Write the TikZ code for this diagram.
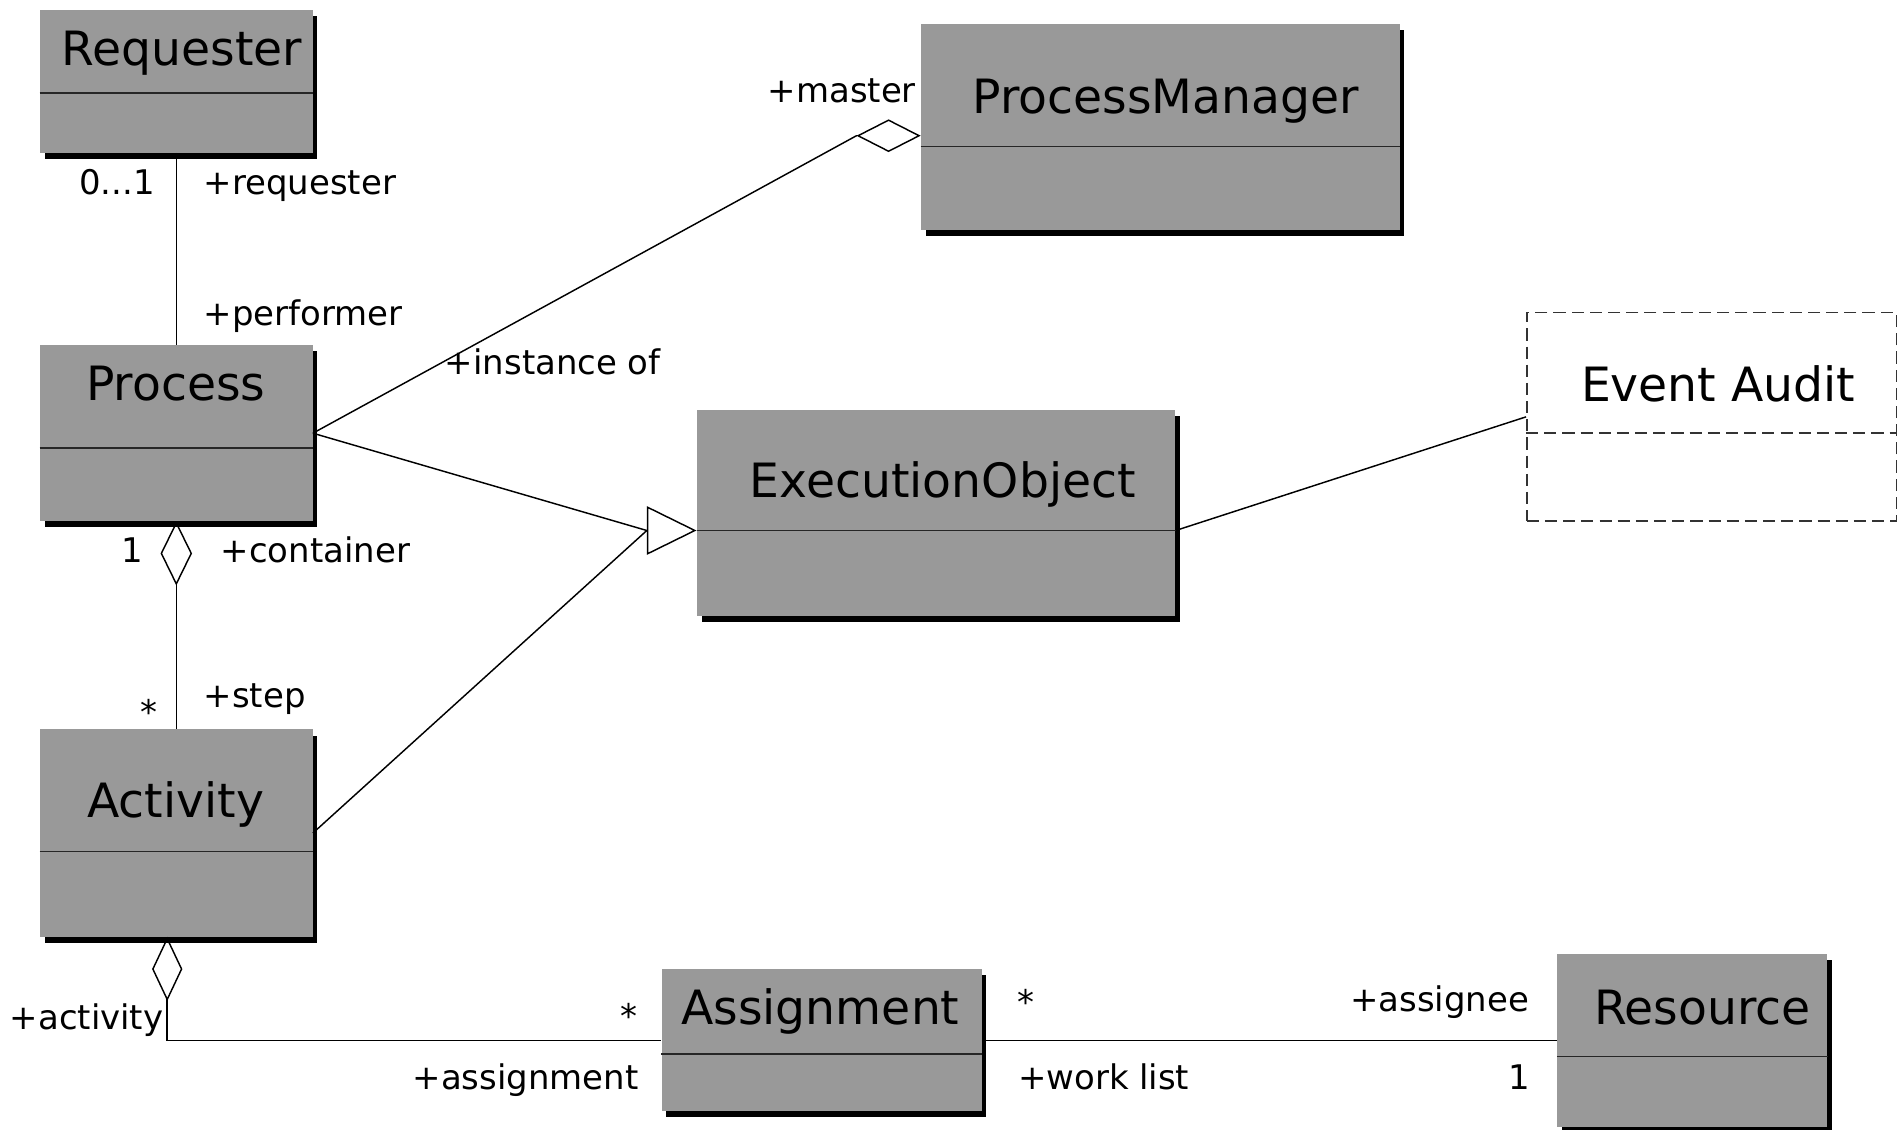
\documentclass[tikz,border=0pt]{standalone}
\usepackage{fontspec}
\setmainfont{DejaVu Sans}
\usetikzlibrary{arrows.meta,shadows}
\definecolor{clsgray}{RGB}{153,153,153}
\tikzset{
  cls/.style={fill=clsgray, inner sep=0pt,
    drop shadow={shadow xshift=4pt, shadow yshift=-5pt, fill=black, opacity=1}},
  audit/.style={draw=black!80, fill=white, line width=1.2pt, dash pattern=on 10pt off 5pt, inner sep=0pt},
  auditline/.style={draw=black!80, line width=1.2pt, dash pattern=on 10pt off 5pt},
  divider/.style={draw=black!85, line width=1.3pt},
  clsname/.style={inner sep=0pt, font=\fontsize{39}{47}\selectfont},
  role/.style={inner sep=0pt, font=\fontsize{28}{34}\selectfont},
  assoc/.style={draw=black, line width=1.2pt},
}
\begin{document}
\begin{tikzpicture}[x=1pt,y=-1pt]
        \useasboundingbox (0,0) rectangle (1568,932.5);

        % classes
        \node[cls, minimum width=225pt, minimum height=118pt] (req) at (145.5,67) {};
        \node[cls, minimum width=225pt, minimum height=145pt] (proc) at (145.5,357.5) {};
        \node[cls, minimum width=225pt, minimum height=171pt] (act) at (145.5,687.5) {};
        \node[cls, minimum width=395pt, minimum height=170pt] (pm) at (957.5,105) {};
        \node[cls, minimum width=395pt, minimum height=170pt] (eo) at (772.5,423) {};
        \node[audit, minimum width=305pt, minimum height=172pt] (ea) at (1412.5,344) {};
        \node[cls, minimum width=264pt, minimum height=117pt] (asg) at (678,858.5) {};
        \node[cls, minimum width=223pt, minimum height=143pt] (res) at (1396.5,858.5) {};

        \foreach \n/\d in {req/69,proc/85,act/101,pm/101,eo/100,asg/70,res/85}
            \draw[divider] ([yshift=-\d pt]\n.north west) -- ([yshift=-\d pt]\n.north east);
        \draw[auditline] ([yshift=-100pt]ea.north west) -- ([yshift=-100pt]ea.north east);

        \node[clsname, anchor=base] (req-name) at (150,54.4) {Requester};
        \node[clsname, anchor=base] (proc-name) at (145,330.7) {Process};
        \node[clsname, anchor=base] (act-name) at (145,674.5) {Activity};
        \node[clsname, anchor=base] (pm-name) at (962,93.7) {ProcessManager};
        \node[clsname, anchor=base] (eo-name) at (778,410.4) {ExecutionObject};
        \node[clsname, anchor=base] (ea-name) at (1418,331.6) {Event Audit};
        \node[clsname, anchor=base] (asg-name) at (677,845.5) {Assignment};
        \node[clsname, anchor=base] (res-name) at (1405,845.5) {Resource};

        % associations
        \draw[assoc] (req.south) -- (proc.north);

        \coordinate (pm-end) at ([yshift=-7pt]pm.west);
        \coordinate (pm-agg) at ([xshift=-53pt]pm-end);
        \draw[assoc, {Diamond[open,length=53pt,width=27pt]}-] (pm-end) -- (pm-agg);
        \draw[assoc] (proc.east) -- (pm-agg);

        \coordinate (eo-tip) at ([yshift=-100pt]eo.north west);
        \coordinate (gen) at ([xshift=-41pt]eo-tip);
        \draw[assoc] (proc.east) -- (gen);
        \draw[assoc] (act.east) -- (gen);
        \draw[assoc, -{Triangle[open,length=41pt,width=40pt]}] (gen) -- (eo-tip);

        \draw[assoc] (eo-tip -| eo.east) -- (ea.west);
        \draw[assoc, {Diamond[open,length=53pt,width=26pt]}-] (proc.south) -- (act.north);
        \draw[assoc, {Diamond[open,length=53pt,width=25pt]}-] ([xshift=-7.5pt]act.south) |- (asg.west);
        \draw[assoc] (asg.east) -- (res.west);

        % roles and multiplicities
        \node[role, anchor=base east] (m-req) at (128,160.6) {0...1};
        \node[role, anchor=base west] (r-req) at (168,160.6) {+requester};
        \node[role, anchor=base west] (r-perf) at (168,269) {+performer};
        \node[role, anchor=base east] (r-master) at (756,84.8) {+master};
        \node[role, anchor=base west] (r-inst) at (367,309.3) {+instance of};
        \node[role, anchor=base east] (m-cont) at (118,464) {1};
        \node[role, anchor=base west] (r-cont) at (182,464) {+container};
        \node[role, anchor=base] (m-step) at (123,598) {*};
        \node[role, anchor=base west] (r-step) at (168,583.8) {+step};
        \node[role, anchor=base east] (r-act) at (135,850) {+activity};
        \node[role, anchor=base] (m-asg) at (519,849) {*};
        \node[role, anchor=base east] (r-asg) at (527,899) {+assignment};
        \node[role, anchor=base] (m-work) at (847,837) {*};
        \node[role, anchor=base east] (r-assignee) at (1262,835) {+assignee};
        \node[role, anchor=base west] (r-work) at (840,899) {+work list};
        \node[role, anchor=base east] (m-res) at (1263,899) {1};
\end{tikzpicture}
\end{document}
